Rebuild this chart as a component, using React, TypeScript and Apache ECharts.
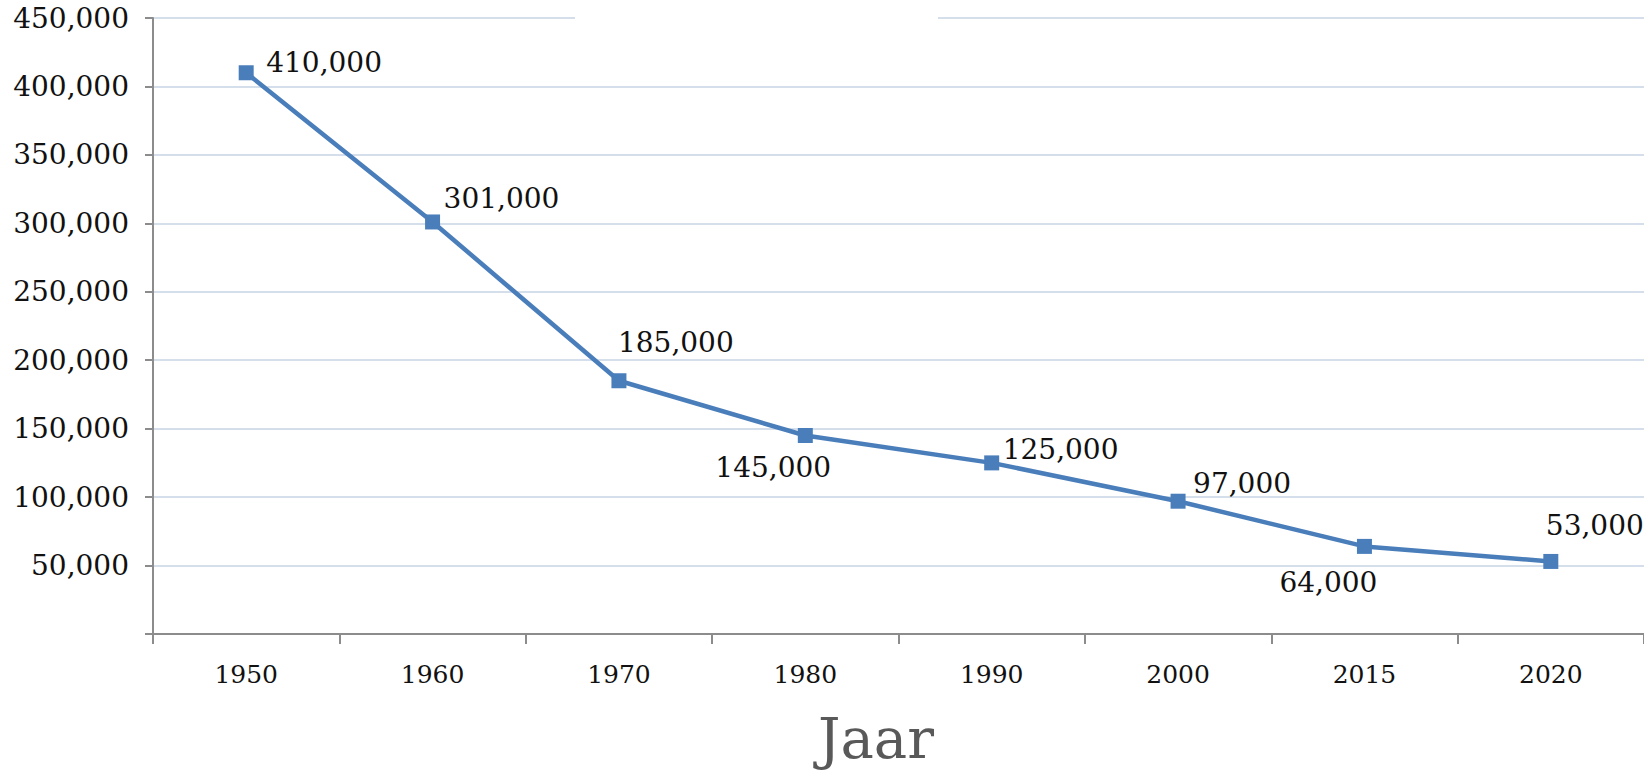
import React, { useEffect, useRef } from "react";
import * as echarts from "echarts";

const years = ["1950", "1960", "1970", "1980", "1990", "2000", "2015", "2020"];
const values = [410000, 301000, 185000, 145000, 125000, 97000, 64000, 53000];
const yTicks = { min: 0, max: 450000, interval: 50000 };
const xTitle = "Jaar";

// label placement (style only): [dx, dy] from marker centre, text left-aligned
const labelOffsets: [number, number][] = [
  [20, -10],
  [11, -23],
  [-1, -38],
  [-90, 32],
  [11, -13],
  [15, -18],
  [-85, 36],
  [-5, -36],
];

const fmt = (v: number) =>
  v === 0 ? "" : v.toString().replace(/\B(?=(\d{3})+(?!\d))/g, ",");

export default function App() {
  const ref = useRef<HTMLDivElement>(null);
  useEffect(() => {
    if (!ref.current) return;
    const chart = echarts.init(ref.current, null, { renderer: "svg" });
    const font = "DejaVu Serif";
    chart.setOption({
      animation: false,
      backgroundColor: "#ffffff",
      grid: { left: 153, top: 18, width: 1491, height: 616, containLabel: false },
      xAxis: {
        type: "category",
        data: years,
        boundaryGap: true,
        axisLine: { lineStyle: { color: "#8c8c8c", width: 2 } },
        axisTick: { show: true, length: 10, inside: false, lineStyle: { color: "#8c8c8c", width: 2 } },
        axisLabel: { color: "#111", fontFamily: font, fontSize: 25, margin: 28 },
        splitLine: { show: false },
      },
      yAxis: {
        type: "value",
        min: yTicks.min,
        max: yTicks.max,
        interval: yTicks.interval,
        axisLine: { show: true, lineStyle: { color: "#8c8c8c", width: 2 } },
        axisTick: { show: true, length: 8, lineStyle: { color: "#8c8c8c", width: 2 } },
        axisLabel: { color: "#111", fontFamily: font, fontSize: 28, margin: 24, formatter: fmt },
        splitLine: { show: true, lineStyle: { color: "#d5dfec", width: 2 } },
      },
      series: [
        {
          type: "line",
          data: values.map((v, i) => ({
            value: v,
            label: {
              show: true,
              position: "inside",
              align: "left",
              verticalAlign: "middle",
              offset: labelOffsets[i],
              formatter: (p: any) => fmt(p.value),
              color: "#111",
              fontFamily: font,
              fontSize: 28,
            },
          })),
          symbol: "rect",
          symbolSize: 15,
          itemStyle: { color: "#4a7ebb" },
          lineStyle: { color: "#4a7ebb", width: 4.5 },
          label: { show: true },
        },
      ],
      graphic: [
        { type: "rect", shape: { x: 575, y: 13, width: 363, height: 10 }, style: { fill: "#ffffff" }, z: 100 },
        {
          type: "text",
          x: 876,
          y: 738,
          style: {
            text: xTitle,
            fontFamily: font,
            fontSize: 56,
            fill: "#595959",
            align: "center",
            verticalAlign: "middle",
          },
        },
      ],
    });
    return () => chart.dispose();
  }, []);
  return (
    <div
      ref={ref}
      style={{ position: "fixed", left: 0, top: 0, width: 1644, height: 771 }}
    />
  );
}
